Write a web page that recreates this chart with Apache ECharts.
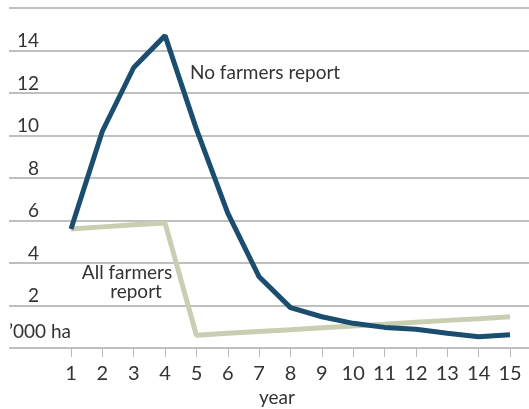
<!DOCTYPE html>
<html>
<head>
<meta charset="utf-8">
<script src="https://cdn.jsdelivr.net/npm/echarts@6/dist/echarts.min.js"></script>
<style>html,body{margin:0;padding:0;background:#fff}#c{width:529px;height:409px}</style>
</head>
<body>
<div id="c"></div>
<script>
var years = ['1','2','3','4','5','6','7','8','9','10','11','12','13','14','15'];
var noFarmersReport = [5.6, 10.2, 13.2, 14.7, 10.3, 6.35, 3.35, 1.9, 1.47, 1.16, 0.97, 0.88, 0.69, 0.53, 0.62];
var allFarmersReport = [5.6, 5.7, 5.8, 5.88, 0.6, 0.69, 0.78, 0.86, 0.95, 1.04, 1.12, 1.21, 1.3, 1.38, 1.47];
var yMin = 0, yMax = 16, yStep = 2;
var yUnit = '\u2019000 ha';
var xName = 'year';

var FONT = 'Lato';
var TXT = '#333333';
var chart = echarts.init(document.getElementById('c'));
chart.setOption({
  animation: false,
  grid: [
    {left: 9, right: 0, top: 8, bottom: 61},
    {left: 71, right: 19, top: 8, bottom: 61}
  ],
  xAxis: [
    {gridIndex: 0, type: 'value', min: 0, max: 1, show: false},
    {gridIndex: 1, type: 'category', data: years, boundaryGap: false,
     axisLine: {show: false},
     axisTick: {show: true, length: 9, lineStyle: {color: '#bbbbbb', width: 1}},
     axisLabel: {color: TXT, fontFamily: FONT, fontSize: 20, margin: 16, interval: 0},
     splitLine: {show: false}}
  ],
  yAxis: [
    {gridIndex: 0, type: 'value', min: yMin, max: yMax, interval: yStep,
     axisLine: {show: false}, axisTick: {show: false},
     axisLabel: {color: TXT, fontFamily: FONT, fontSize: 19, align: 'right', verticalAlign: 'bottom', margin: -30,
       formatter: function (v) { return (v === yMin || v === yMax) ? '' : String(v); }},
     splitLine: {lineStyle: {color: '#aaaaaa', width: 1.5}}},
    {gridIndex: 1, type: 'value', min: yMin, max: yMax, interval: yStep, show: false, splitLine: {show: false}}
  ],
  series: [
    {name: 'All farmers report', type: 'line', xAxisIndex: 1, yAxisIndex: 1, data: allFarmersReport,
     showSymbol: false, lineStyle: {color: '#c9cdb1', width: 5}, z: 2},
    {name: 'No farmers report', type: 'line', xAxisIndex: 1, yAxisIndex: 1, data: noFarmersReport,
     showSymbol: false, lineStyle: {color: '#1b4d6f', width: 5}, z: 3}
  ],
  graphic: [
    {type: 'text', left: 9, top: 322, style: {text: yUnit, fill: TXT, font: '19px ' + FONT}},
    {type: 'text', style: {x: 277, y: 398, text: xName, fill: TXT, font: '19px ' + FONT, textAlign: 'center', textVerticalAlign: 'middle'}},
    {type: 'text', style: {x: 190, y: 73, text: 'No farmers report', fill: TXT, font: '19px ' + FONT, textAlign: 'left', textVerticalAlign: 'middle'}},
    {type: 'text', style: {x: 127, y: 273, text: 'All farmers', fill: TXT, font: '19px ' + FONT, textAlign: 'center', textVerticalAlign: 'middle'}},
    {type: 'text', style: {x: 136, y: 292, text: 'report', fill: TXT, font: '19px ' + FONT, textAlign: 'center', textVerticalAlign: 'middle'}}
  ]
});
</script>
</body>
</html>
